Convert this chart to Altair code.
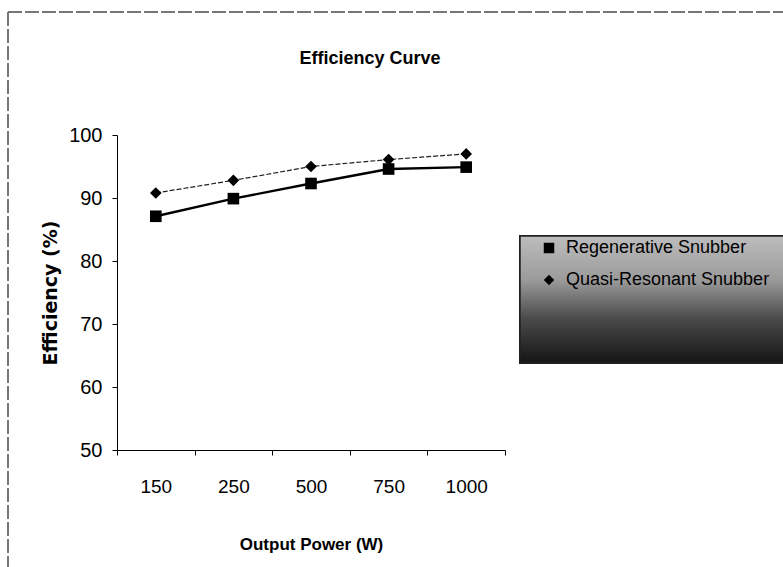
import altair as alt
import pandas as pd

power = ["150", "250", "500", "750", "1000"]
regenerative = [87.1, 89.9, 92.3, 94.6, 94.9]
quasi_resonant = [90.8, 92.8, 95.0, 96.1, 97.0]
series_names = ["Regenerative Snubber", "Quasi-Resonant Snubber"]
y_ticks = [50, 60, 70, 80, 90, 100]

rows = []
for name, vals in zip(series_names, [regenerative, quasi_resonant]):
    for p, v in zip(power, vals):
        rows.append({"power": p, "eff": v, "series": name})
df = pd.DataFrame(rows)

W, H = 388, 315
PL, PT = 117, 135

x_enc = alt.X(
    "power:O", sort=power,
    scale=alt.Scale(type="band", paddingInner=0, paddingOuter=0),
    axis=alt.Axis(
        title="Output Power (W)", labelAngle=0, tickBand="extent",
        labelFont="Liberation Sans", labelFontSize=19, labelColor="black",
        labelPadding=22, tickSize=5, tickColor="black", domainColor="black",
        titleFont="Liberation Sans", titleFontSize=17, titleFontWeight="bold",
        titleColor="black", titlePadding=40,
    ),
)
y_enc = alt.Y(
    "eff:Q",
    scale=alt.Scale(domain=[50, 100], nice=False, zero=False),
    axis=alt.Axis(
        title="Efficiency (%)", values=y_ticks, grid=False,
        labelFont="Liberation Sans", labelFontSize=20, labelColor="black",
        labelPadding=10, tickSize=5, tickColor="black", domainColor="black",
        titleFont="DejaVu Sans", titleFontSize=19, titleFontWeight="bold",
        titleColor="black", titlePadding=8,
    ),
)

base = alt.Chart(df)

line_regen = base.transform_filter(
    alt.datum.series == series_names[0]
).mark_line(color="black", strokeWidth=2.4).encode(x=x_enc, y=y_enc)

line_quasi = base.transform_filter(
    alt.datum.series == series_names[1]
).mark_line(color="#222222", strokeWidth=1.2, strokeDash=[5, 2]).encode(x=x_enc, y=y_enc)

points = base.mark_point(filled=True, color="black", opacity=1, size=135).encode(
    x=x_enc, y=y_enc,
    shape=alt.Shape(
        "series:N", sort=series_names,
        scale=alt.Scale(domain=series_names, range=["square", "diamond"]),
        legend=alt.Legend(
            title=None, orient="none", legendX=403, legendY=100,
            padding=4, rowPadding=14,
            labelFont="Liberation Sans", labelFontSize=18,
            labelColor="black", labelLimit=400, symbolFillColor="black",
            symbolStrokeColor="black", symbolSize=110, symbolOffset=16,
            labelOffset=8,
        ),
    ),
)

legend_box = base.mark_rect(
    stroke="#222222", strokeWidth=1.5,
    color=alt.Gradient(
        gradient="linear", x1=0, y1=0, x2=0, y2=1,
        stops=[
            alt.GradientStop(color="#bdbdbd", offset=0),
            alt.GradientStop(color="#9a9a9a", offset=0.35),
            alt.GradientStop(color="#4a4a4a", offset=0.65),
            alt.GradientStop(color="#151515", offset=1),
        ],
    ),
).encode(x=alt.value(403), x2=alt.value(670), y=alt.value(101), y2=alt.value(228))

frame_top = base.mark_rule(color="#777777", strokeDash=[14, 3], strokeWidth=1).encode(
    x=alt.value(-109), x2=alt.value(666), y=alt.value(-123)
)
frame_left = base.mark_rule(color="#777777", strokeDash=[14, 3], strokeWidth=1).encode(
    x=alt.value(-109), y=alt.value(-123), y2=alt.value(432)
)

chart = alt.layer(frame_top, frame_left, legend_box, line_regen, line_quasi, points).properties(
    width=W, height=H,
    title=alt.TitleParams(
        "Efficiency Curve", font="Liberation Sans", fontSize=18,
        fontWeight="bold", color="black", anchor="middle", dx=59,
        offset=0, dy=56,
    ),
    autosize=alt.AutoSizeParams(type="none"),
    padding={"left": PL, "top": PT, "right": 783 - PL - W, "bottom": 567 - PT - H},
    background="white",
).configure_view(stroke=None)

chart.save("out.html", embed_options={"renderer": "svg", "actions": False})
